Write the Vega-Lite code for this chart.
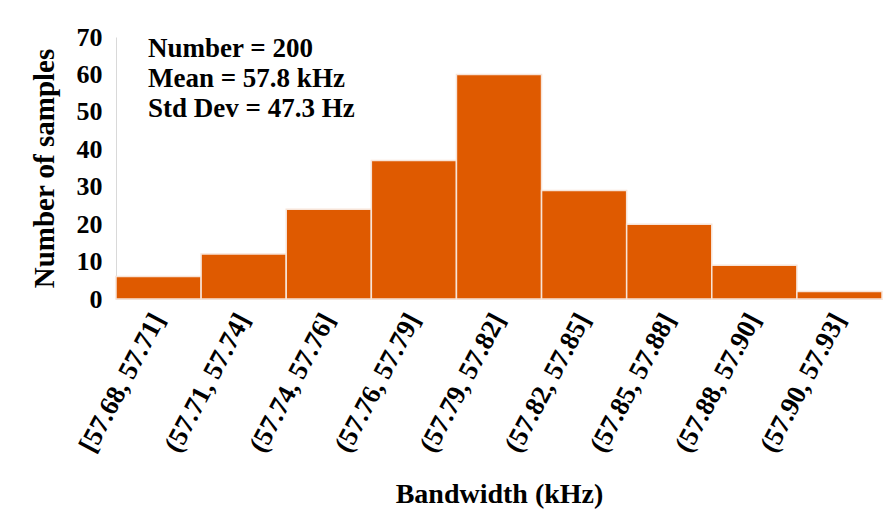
{
  "$schema": "https://vega.github.io/schema/vega-lite/v6.json",
  "width": 766,
  "height": 262,
  "autosize": {"type": "none"},
  "padding": {"left": 116, "top": 37, "right": 7, "bottom": 215},
  "background": "white",
  "config": {
    "view": {"stroke": null},
    "font": "Liberation Serif",
    "axisX": {
      "labelAngle": -62,
      "ticks": false,
      "domainColor": "#d9d9d9",
      "labelFont": "Liberation Serif",
      "labelFontSize": 27,
      "labelFontWeight": "bold",
      "labelColor": "black",
      "labelPadding": 16,
      "labelLimit": 0,
      "labelOverlap": false,
      "titleFont": "Liberation Serif",
      "titleFontSize": 28,
      "titleFontWeight": "bold",
      "titleColor": "black",
      "titlePadding": 24
    },
    "axisY": {
      "labelOverlap": false,
      "grid": false,
      "ticks": false,
      "domainColor": "#d9d9d9",
      "labelFont": "Liberation Serif",
      "labelFontSize": 26,
      "labelFontWeight": "bold",
      "labelColor": "black",
      "labelPadding": 14,
      "titleFont": "Liberation Serif",
      "titleFontSize": 29,
      "titleFontWeight": "bold",
      "titleColor": "black",
      "titlePadding": 17
    }
  },
  "data": {
    "values": [
      {"bin": "[57.68, 57.71]", "count": 6},
      {"bin": "(57.71, 57.74]", "count": 12},
      {"bin": "(57.74, 57.76]", "count": 24},
      {"bin": "(57.76, 57.79]", "count": 37},
      {"bin": "(57.79, 57.82]", "count": 60},
      {"bin": "(57.82, 57.85]", "count": 29},
      {"bin": "(57.85, 57.88]", "count": 20},
      {"bin": "(57.88, 57.90]", "count": 9},
      {"bin": "(57.90, 57.93]", "count": 2}
    ]
  },
  "layer": [
    {
      "mark": {"type": "bar", "color": "#DF5A00", "stroke": "#f7e4d8", "strokeWidth": 1.5},
      "encoding": {
        "x": {
          "field": "bin",
          "type": "nominal",
          "sort": null,
          "scale": {"paddingInner": 0, "paddingOuter": 0},
          "axis": {"title": "Bandwidth (kHz)"}
        },
        "y": {
          "field": "count",
          "type": "quantitative",
          "scale": {"domain": [0, 70]},
          "axis": {"title": "Number of samples", "values": [0, 10, 20, 30, 40, 50, 60, 70]}
        }
      }
    },
    {
      "data": {"values": [{}]},
      "mark": {
        "type": "text",
        "align": "left",
        "baseline": "alphabetic",
        "dx": 32,
        "font": "Liberation Serif",
        "fontSize": 27,
        "fontWeight": "bold",
        "color": "black",
        "lineHeight": 30.3
      },
      "encoding": {
        "x": {"datum": "[57.68, 57.71]", "type": "nominal", "bandPosition": 0, "axis": {"title": "Bandwidth (kHz)"}},
        "y": {"datum": 64.7, "type": "quantitative", "axis": {"title": "Number of samples", "values": [0, 10, 20, 30, 40, 50, 60, 70]}},
        "text": {"value": ["Number = 200", "Mean = 57.8 kHz", "Std Dev = 47.3 Hz"]}
      }
    }
  ]
}
